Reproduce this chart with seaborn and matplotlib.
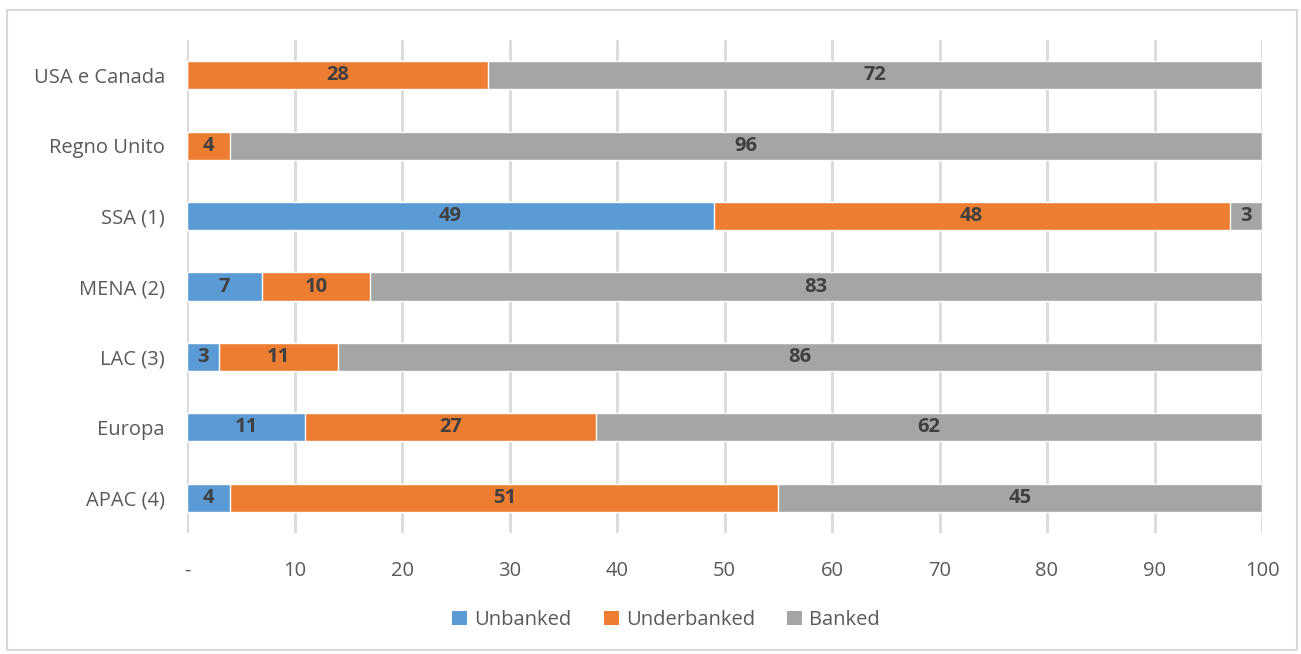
import matplotlib
matplotlib.use("Agg")
import matplotlib.pyplot as plt
import seaborn as sns
import pandas as pd
import numpy as np
from matplotlib.patches import Rectangle, Patch

regions = ["USA e Canada", "Regno Unito", "SSA (1)", "MENA (2)", "LAC (3)", "Europa", "APAC (4)"]
unbanked = [0, 0, 49, 7, 3, 11, 4]
underbanked = [28, 4, 48, 10, 11, 27, 51]
banked = [72, 96, 3, 83, 86, 62, 45]
series_names = ["Unbanked", "Underbanked", "Banked"]
colors = ["#5B9BD5", "#ED7D31", "#A5A5A5"]
xticks = [0, 10, 20, 30, 40, 50, 60, 70, 80, 90, 100]
xticklabels = ["-", "10", "20", "30", "40", "50", "60", "70", "80", "90", "100"]

sns.set_theme(style="white")
plt.rcParams["font.family"] = ["Open Sans", "DejaVu Sans"]

fig = plt.figure(figsize=(13.01, 6.54), dpi=100)
ax = fig.add_axes([187/1301, 1-533/654, (1262-187)/1301, 493/654])

vals = np.array([unbanked, underbanked, banked], dtype=float)
cum = np.cumsum(vals, axis=0)
for i in [2, 1, 0]:
    df = pd.DataFrame({"region": regions, "value": cum[i]})
    sns.barplot(data=df, x="value", y="region", orient="h", color=colors[i],
                saturation=1, width=0.4, ax=ax, order=regions, zorder=3)

for i in range(3):
    for j in range(len(regions)):
        v = vals[i, j]
        if v > 0:
            center = cum[i, j] - v / 2
            ax.text(center, j, f"{int(v)}", ha="center", va="center",
                    fontsize=14.5, fontweight="bold", color="#404040", zorder=4)

ax.set_xlim(0, 100)
ax.set_ylim(6.5, -0.5)
ax.set_xticks(xticks)
ax.set_xticklabels(xticklabels)
ax.set_xlabel("")
ax.set_ylabel("")
ax.tick_params(axis="x", labelsize=14.5, colors="#595959", length=0, pad=20)
ax.tick_params(axis="y", labelsize=14.5, colors="#595959", length=0, pad=16)
ax.grid(axis="x", color="#D9D9D9", linewidth=2, zorder=0)
ax.grid(axis="y", visible=False)
for s in ax.spines.values():
    s.set_visible(False)

handles = [Patch(facecolor=c, edgecolor="none") for c in colors]
fig.legend(handles, series_names, loc="center", bbox_to_anchor=(666/1301, 1-620/654),
           ncol=3, frameon=False, fontsize=14.5, handlelength=0.75, handleheight=0.75,
           handletextpad=0.35, columnspacing=1.6, labelcolor="#595959")

fig.patches.append(Rectangle((7/1301, 1-650/654), 1290/1301, 640/654,
                             transform=fig.transFigure, fill=False,
                             edgecolor="#D9D9D9", linewidth=1.5))

fig.savefig("out.png", dpi=100, facecolor="white")
